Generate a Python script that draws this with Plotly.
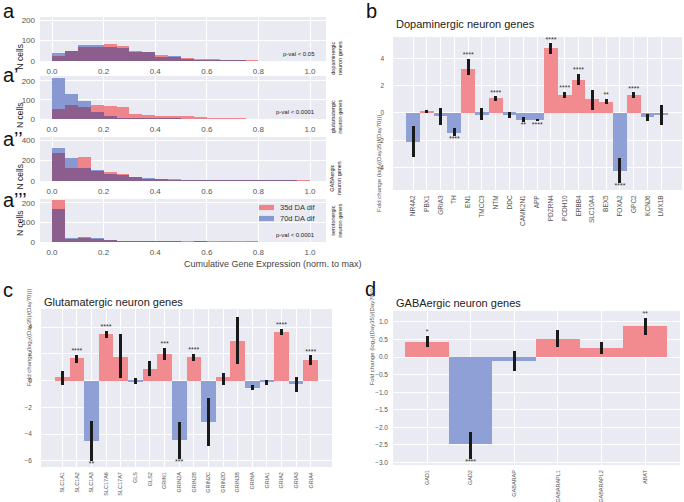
import numpy as np
import plotly.graph_objects as go

W, H = 684, 502
FONT = "Liberation Sans, Arial, sans-serif"

# ---------------- Panel a: histogram data (bins of width 0.05 from 0 to 1)
BIN_W = 0.05
bin_start = np.round(np.arange(0, 1.0, BIN_W), 2)
dopa_35 = [25, 48, 67, 68, 85, 74, 47, 44, 31, 18, 13, 8, 5, 4, 2, 1, 0, 0, 0, 0]
dopa_70 = [41, 49, 80, 78, 70, 62, 45, 43, 21, 25, 8, 3, 2, 1, 1, 0, 0, 0, 0, 0]
glut_35 = [52, 73, 64, 71, 67, 62, 26, 22, 16, 16, 14, 10, 4, 5, 1, 0, 0, 0, 0, 0]
glut_70 = [215, 134, 95, 36, 18, 5, 3, 2, 1, 1, 0, 0, 0, 0, 0, 0, 0, 0, 0, 0]
gaba_35 = [278, 129, 234, 102, 88, 68, 38, 20, 17, 14, 3, 3, 4, 2, 1, 2, 1, 1, 1, 1]
gaba_70 = [325, 220, 125, 104, 71, 60, 37, 27, 12, 8, 4, 4, 2, 3, 1, 1, 1, 1, 1, 0]
sero_35 = [214, 17, 20, 13, 10, 3, 2, 2, 1, 1, 1, 1, 1, 0, 1, 0, 0, 0, 0, 0]
sero_70 = [168, 22, 27, 20, 9, 3, 4, 5, 1, 1, 0, 1, 0, 1, 0, 1, 0, 0, 0, 0]
hist_names = ["dopaminergic<br>neuron genes", "glutamatergic<br>neuron genes",
              "GABAergic<br>neuron genes", "serotonergic<br>neuron genes"]
hist_pvals = ["p-val < 0.05", "p-val < 0.0001", "", "p-val < 0.0001"]
hist_letters = ["a", "a’", "a’’", "a’’’"]
hist_yticks = [[0, 100, 200], [0, 100, 200], [0, 200, 400], [0, 100, 200]]
hist_ymax = [215, 226, 430, 220]
x_ticks = [0.0, 0.2, 0.4, 0.6, 0.8, 1.0]

# ---------------- Panel b: dopaminergic genes
genes_b = ["NR4A2", "PBX1", "GRIA3", "TH", "EN1", "TMCC3", "NTM", "DDC", "CAMK2N1", "APP",
           "PDZRN4", "PCDH10", "ERBB4", "SLC10A4", "BEX5", "FOXA2", "GPC2", "KCNJ6", "LMX1B"]
val_b = [-2.1, 0.1, -0.25, -1.45, 3.25, -0.12, 1.07, -0.12, -0.48, -0.55,
         4.75, 1.35, 2.45, 1.0, 0.82, -4.25, 1.3, -0.3, -0.15]
lo_b = [-3.2, 0.02, -0.9, -1.7, 2.8, -0.54, 0.9, -0.34, -0.63, -0.61,
        4.34, 1.07, 2.05, 0.24, 0.66, -5.13, 1.1, -0.56, -0.85]
hi_b = [-0.98, 0.2, 0.37, -1.1, 3.95, 0.37, 1.22, 0.1, -0.29, -0.41,
        5.1, 1.56, 2.85, 1.7, 1.05, -3.3, 1.51, -0.07, 0.56]
sig_b = ["", "", "", "****", "****", "", "****", "", "**", "****",
         "****", "****", "****", "", "**", "****", "****", "", ""]

# ---------------- Panel c: glutamatergic genes
genes_c = ["SLC1A1", "SLC1A2", "SLC1A3", "SLC17A6", "SLC17A7", "GLS", "GLS2", "GRIN1", "GRIN2A",
           "GRIN2B", "GRIN2C", "GRIN2D", "GRIN3B", "GRINA", "GRIA1", "GRIA2", "GRIA3", "GRIA4"]
val_c = [0.25, 1.7, -4.5, 3.45, 1.8, -0.05, 0.88, 2.0, -4.43,
         1.75, -3.08, 0.25, 2.98, -0.55, -0.1, 3.62, -0.25, 1.55]
lo_c = [-0.3, 1.35, -6.0, 3.2, 0.18, -0.22, 0.33, 1.55, -5.85,
        1.5, -4.9, -0.3, 1.25, -0.72, -0.35, 3.38, -0.88, 1.18]
hi_c = [0.7, 1.95, -3.0, 3.7, 3.45, 0.2, 1.45, 2.43, -3.1,
        1.98, -1.3, 0.58, 4.75, -0.3, 0.08, 3.87, 0.3, 1.88]
sig_c = ["", "****", "**", "****", "", "", "", "***", "***",
         "****", "", "", "", "", "", "****", "", "****"]

# ---------------- Panel d: GABAergic genes
genes_d = ["GAD1", "GAD2", "GABARAP", "GABARAPL1", "GABARAPL2", "ABAT"]
val_d = [0.44, -2.47, -0.1, 0.52, 0.25, 0.87]
lo_d = [0.29, -2.9, -0.39, 0.29, 0.085, 0.64]
hi_d = [0.6, -2.12, 0.17, 0.77, 0.43, 1.11]
sig_d = ["*", "****", "", "", "", "**"]

# ---------------- styles
BG = "#EAEAF2"
HIST_RED = "#F0848B"
HIST_BLUE = "#8898D2"
HIST_PURPLE = "#8C5E8E"
BAR_RED = "#F28B8F"
BAR_BLUE = "#8FA0D6"
ERR = "#1a1a1a"
TICKC = "#555555"
YLAB = "Fold change (log<sub>2</sub>((Day35)/(Day70)))"


def px2x(px):
    return px / W


def px2y(py):
    return 1 - py / H


fig = go.Figure()
layout = dict(width=W, height=H, margin=dict(l=0, r=0, t=0, b=0),
              paper_bgcolor="white", plot_bgcolor=BG, barmode="overlay",
              bargap=0, showlegend=False, font=dict(family=FONT))
annotations = []
shapes = []

# ----- histogram panels
hist_boxes = [(40, 326, 17, 61), (40, 326, 76, 119), (40, 326, 137, 181), (40, 326, 199, 242)]
hist_data = [(dopa_35, dopa_70), (glut_35, glut_70), (gaba_35, gaba_70), (sero_35, sero_70)]
hist_letter_y = [11, 75, 139, 200]
for i, ((x0, x1, y0, y1), (r, b)) in enumerate(zip(hist_boxes, hist_data)):
    n = i + 1
    xa = "x" if n == 1 else f"x{n}"
    ya = "y" if n == 1 else f"y{n}"
    ov = np.minimum(np.array(r), np.array(b))
    for vals, col in ((r, HIST_RED), (b, HIST_BLUE), (ov, HIST_PURPLE)):
        fig.add_trace(go.Bar(x=bin_start, y=vals, width=BIN_W, offset=0,
                             marker=dict(color=col, line=dict(width=0)),
                             xaxis=xa, yaxis=ya, hoverinfo="skip"))
    key = "" if n == 1 else str(n)
    layout["xaxis" + key] = dict(domain=[px2x(x0), px2x(x1)], anchor=ya, range=[-0.0465, 1.062],
                                 tickvals=x_ticks, tickformat=".1f", showgrid=True,
                                 gridcolor="white", gridwidth=1.3, zeroline=False, showline=False,
                                 ticks="", tickfont=dict(size=8, color=TICKC), automargin=False,
                                 ticklabelstandoff=4)
    layout["yaxis" + key] = dict(domain=[px2y(y1), px2y(y0)], anchor=xa, range=[0, hist_ymax[i]],
                                 tickvals=hist_yticks[i], showgrid=True, gridcolor="white",
                                 gridwidth=1.3, zeroline=False, showline=False, ticks="",
                                 tickfont=dict(size=8, color=TICKC), automargin=False,
                                 ticklabelstandoff=4)
    cy = (y0 + y1) / 2
    annotations.append(dict(x=px2x(12.5), y=px2y(cy + 3), xref="paper", yref="paper",
                            text="N cells", textangle=-90, showarrow=False,
                            font=dict(size=8.5, color="#222")))
    annotations.append(dict(x=px2x(336), y=px2y(cy), xref="paper", yref="paper",
                            text=hist_names[i], textangle=-90, showarrow=False,
                            font=dict(size=5.5, color="#222")))
    annotations.append(dict(x=px2x(1), y=px2y(hist_letter_y[i]), xref="paper", yref="paper",
                            text=hist_letters[i], showarrow=False, xanchor="left",
                            yanchor="middle", font=dict(size=20, color="#111")))
    if hist_pvals[i]:
        annotations.append(dict(x=px2x(317), y=px2y(y1 - 7), xref="paper", yref="paper",
                                text=hist_pvals[i], showarrow=False, xanchor="right",
                                yanchor="middle", font=dict(size=6, color="#222")))

annotations.append(dict(x=px2x(182), y=px2y(264), xref="paper", yref="paper",
                        text="Cumulative Gene Expression (norm. to max)", showarrow=False,
                        font=dict(size=9, color="#444")))
# legend of a'''
for label, col, ly in (("35d DA dif", HIST_RED, 207.5), ("70d DA dif", HIST_BLUE, 218.5)):
    shapes.append(dict(type="rect", xref="paper", yref="paper", x0=px2x(259), x1=px2x(274),
                       y0=px2y(ly + 2.6), y1=px2y(ly - 2.6), fillcolor=col, line=dict(width=0)))
    annotations.append(dict(x=px2x(278), y=px2y(ly), xref="paper", yref="paper", text=label,
                            showarrow=False, xanchor="left", yanchor="middle",
                            font=dict(size=7.5, color="#333")))


# ----- bar chart panels
def bar_panel(n, genes, vals, lo, hi, sig, box, xr, yr, dtick, fmt, title, letter,
              letter_pos, title_y, ylab_x, standoff, xfs):
    x0, x1, y0, y1 = box
    xa, ya = f"x{n}", f"y{n}"
    vals = np.array(vals)
    cols = [BAR_RED if v > 0 else BAR_BLUE for v in vals]
    fig.add_trace(go.Bar(x=genes, y=vals, width=1.0, marker=dict(color=cols, line=dict(width=0)),
                         error_y=dict(type="data", symmetric=False,
                                      array=np.array(hi) - vals, arrayminus=vals - np.array(lo),
                                      color=ERR, thickness=3, width=0),
                         xaxis=xa, yaxis=ya, hoverinfo="skip"))
    sx = [g for g, s in zip(genes, sig) if s]
    sy = [h if v > 0 else l for v, h, l, s in zip(vals, hi, lo, sig) if s]
    st = [s for s in sig if s]
    tp = ["top center" if v > 0 else "bottom center" for v, s in zip(vals, sig) if s]
    fig.add_trace(go.Scatter(x=sx, y=sy, mode="text", text=st, textposition=tp,
                             textfont=dict(size=7, color="#333"), xaxis=xa, yaxis=ya,
                             hoverinfo="skip", cliponaxis=False))
    layout[f"xaxis{n}"] = dict(domain=[px2x(x0), px2x(x1)], anchor=ya, range=xr,
                               type="category", showgrid=True, gridcolor="white", gridwidth=1.3,
                               zeroline=False, showline=False, ticks="", tickangle=-90,
                               tickfont=dict(size=xfs, color=TICKC), automargin=False,
                               ticklabelstandoff=3)
    layout[f"yaxis{n}"] = dict(domain=[px2y(y1), px2y(y0)], anchor=xa, range=yr, dtick=dtick,
                               tickformat=fmt, showgrid=True, gridcolor="white", gridwidth=1.3,
                               zeroline=False, showline=False, ticks="",
                               tickfont=dict(size=6.5, color=TICKC), automargin=False,
                               ticklabelstandoff=standoff)
    annotations.append(dict(x=px2x(x0 + 1), y=px2y(title_y), xref="paper", yref="paper",
                            text=title, showarrow=False, xanchor="left", yanchor="middle",
                            font=dict(size=11, color="#222")))
    annotations.append(dict(x=px2x(letter_pos[0]), y=px2y(letter_pos[1]), xref="paper",
                            yref="paper", text=letter, showarrow=False, xanchor="left",
                            yanchor="middle", font=dict(size=20, color="#111")))
    annotations.append(dict(x=px2x(ylab_x), y=px2y((y0 + y1) / 2), xref="paper", yref="paper",
                            text=YLAB, textangle=-90, showarrow=False,
                            font=dict(size=6, color="#555")))


bar_panel(5, genes_b, val_b, lo_b, hi_b, sig_b, (393, 682, 37, 190), [-1.45, 19.5],
          [-5.65, 5.57], 2, "d", "Dopaminergic neuron genes", "b", (364, 11), 24, 379, 8, 6.5)
bar_panel(6, genes_c, val_c, lo_c, hi_c, sig_c, (41, 332, 309, 467), [-1.45, 18.45],
          [-6.45, 5.35], 2, "d", "Glutamatergic neuron genes", "c", (1, 290), 302, 24, 8, 5.5)
bar_panel(7, genes_d, val_d, lo_d, hi_d, sig_d, (393, 680, 311, 465), [-0.78, 5.8],
          [-3.07, 1.31], 0.5, ".1f", "GABAergic neuron genes", "d", (363, 289), 303, 372, 4, 5.5)

layout["annotations"] = annotations
layout["shapes"] = shapes
fig.update_layout(**layout)
fig.write_html("out.html", config={"displayModeBar": False},
               post_script="document.body.style.margin='0';document.body.style.overflow='hidden';")
